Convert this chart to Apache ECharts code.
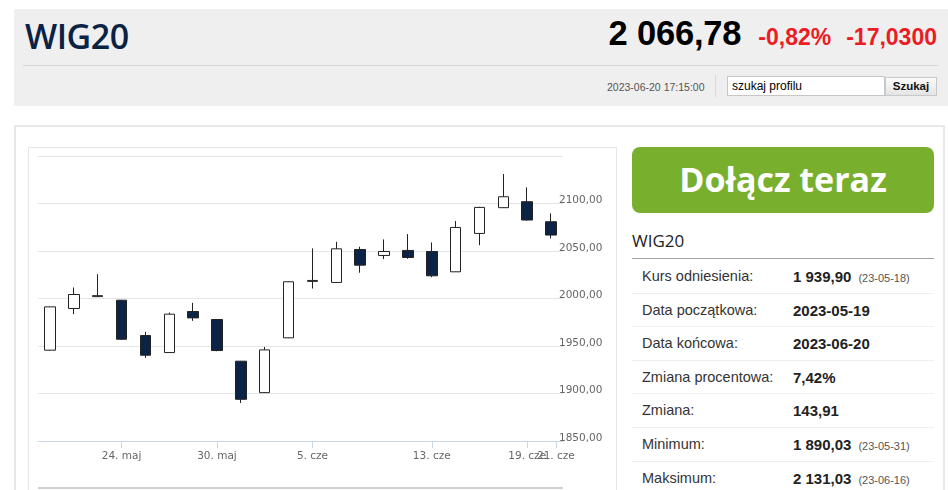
<!DOCTYPE html>
<html>
<head>
<meta charset="utf-8">
<script src="https://cdn.jsdelivr.net/npm/echarts@6/dist/echarts.min.js"></script>
<style>
  html, body { margin:0; padding:0; background:#fff; width:948px; height:490px; overflow:hidden; font-family:"Liberation Sans", Arial, sans-serif; }
  .abs { position:absolute; }
  #hdr { left:14px; top:9px; width:934px; height:97px; background:#efefef; }
  #title { left:25px; top:19px; font-family:"Open Sans", sans-serif; font-size:34px; line-height:34px; color:#0a2244; font-weight:600; letter-spacing:-0.5px; }
  #sep1 { left:23px; top:65px; width:915px; height:1px; background:#d4d4d4; }
  #price { right:11px; top:14px; display:flex; align-items:baseline; white-space:nowrap; height:44px; }
  #price .p { font-size:34.5px; font-weight:bold; color:#000; letter-spacing:-0.2px; }
  #price .r { font-size:23px; font-weight:bold; color:#ec1c24; }
  #ts { left:607px; top:82px; font-size:10.5px; line-height:10px; color:#555; white-space:nowrap; }
  #vsep { left:715px; top:75px; width:1px; height:22px; background:#d8d8d8; }
  #inp { left:727px; top:76px; width:152px; height:18px; border:1px solid #c6c6c6; background:#fff; font-size:12px; line-height:18px; padding-left:4px; box-sizing:content-box; color:#000; }
  #btn { left:885px; top:77px; width:50px; height:17px; border:1px solid #c8c8c8; background:linear-gradient(#fbfbfb,#e4e4e4); font-size:11.5px; font-weight:bold; line-height:17px; text-align:center; color:#111; }
  #box2 { left:14px; top:125px; width:927px; height:400px; border:2px solid #e8e8e8; }
  #chartbox { left:28px; top:147px; width:587px; height:360px; border:1px solid #e6e6e6; }
  #chart { left:29px; top:148px; width:587px; height:342px; }
  #navline { left:38px; top:487px; width:525px; height:2px; background:#cfcfcf; }
  #join { left:632px; top:147px; width:302px; height:66px; background:#78b02e; border-radius:8px; color:#fff; font-family:"Open Sans", sans-serif; font-weight:bold; font-size:34px; line-height:64px; text-align:center; }
  #ptitle { left:632px; top:232px; font-family:"Open Sans", sans-serif; font-size:17px; line-height:17px; color:#222; }
  #pline { left:632px; top:258px; width:302px; height:1px; background:#a3a3a3; }
  #tbl { left:632px; top:260px; width:302px; }
  .row { position:relative; height:32.6px; border-bottom:1px solid #efefef; }
  .row .l { position:absolute; left:10px; top:0; line-height:33px; font-size:14.5px; color:#333; white-space:nowrap; }
  .row .v { position:absolute; left:161px; top:0; line-height:33px; font-size:15px; font-weight:bold; color:#222; white-space:nowrap; }
  .row .v small { font-size:11px; font-weight:normal; color:#555; margin-left:7px; }
</style>
</head>
<body>
<div id="hdr" class="abs"></div>
<div id="title" class="abs">WIG20</div>
<div id="sep1" class="abs"></div>
<div id="price" class="abs"><span class="p">2 066,78</span><span class="r" style="margin-left:17px">-0,82%</span><span class="r" style="margin-left:15px">-17,0300</span></div>
<div id="ts" class="abs">2023-06-20 17:15:00</div>
<div id="vsep" class="abs"></div>
<div id="inp" class="abs">szukaj profilu</div>
<div id="btn" class="abs">Szukaj</div>

<div id="box2" class="abs"></div>
<div id="chartbox" class="abs"></div>
<div id="chart" class="abs"></div>
<div id="navline" class="abs"></div>

<div id="join" class="abs">Dołącz teraz</div>
<div id="ptitle" class="abs">WIG20</div>
<div id="pline" class="abs"></div>
<div id="tbl" class="abs">
  <div class="row"><span class="l">Kurs odniesienia:</span><span class="v">1 939,90<small>(23-05-18)</small></span></div>
  <div class="row"><span class="l">Data początkowa:</span><span class="v">2023-05-19</span></div>
  <div class="row"><span class="l">Data końcowa:</span><span class="v">2023-06-20</span></div>
  <div class="row"><span class="l">Zmiana procentowa:</span><span class="v">7,42%</span></div>
  <div class="row"><span class="l">Zmiana:</span><span class="v">143,91</span></div>
  <div class="row"><span class="l">Minimum:</span><span class="v">1 890,03<small>(23-05-31)</small></span></div>
  <div class="row"><span class="l">Maksimum:</span><span class="v">2 131,03<small>(23-06-16)</small></span></div>
</div>

<script>
const dates = ['2023-05-19','2023-05-22','2023-05-23','2023-05-24','2023-05-25','2023-05-26','2023-05-29','2023-05-30','2023-05-31','2023-06-01','2023-06-02','2023-06-05','2023-06-06','2023-06-07','2023-06-09','2023-06-12','2023-06-13','2023-06-14','2023-06-15','2023-06-16','2023-06-19','2023-06-20'];
const openV  = [1945.6, 1989.5, 2002.0, 1998.2, 1961.0, 1943.1, 1986.3, 1977.9, 1934.0, 1900.9, 1958.6, 2018.0, 2016.9, 2051.6, 2045.3, 2050.6, 2049.5, 2028.1, 2068.5, 2095.6, 2101.9, 2080.8];
const closeV = [1991.2, 2004.2, 2003.0, 1957.1, 1940.3, 1983.5, 1979.6, 1945.2, 1893.9, 1945.9, 2017.6, 2019.0, 2052.3, 2035.1, 2049.5, 2043.2, 2023.9, 2074.8, 2095.9, 2107.1, 2082.6, 2066.78];
const lowV   = [1945.0, 1983.5, 2001.5, 1956.5, 1937.5, 1943.0, 1976.5, 1944.5, 1890.03, 1900.5, 1958.3, 2010.5, 2016.5, 2027.1, 2041.5, 2041.8, 2022.5, 2028.0, 2056.2, 2095.3, 2082.0, 2063.2];
const highV  = [1991.5, 2011.6, 2025.6, 1998.5, 1964.9, 1985.2, 1995.4, 1978.2, 1934.3, 1949.1, 2018.0, 2052.7, 2059.7, 2054.5, 2062.2, 2067.8, 2059.0, 2081.5, 2096.5, 2131.03, 2117.0, 2089.6];
const tickDates  = ['2023-05-24','2023-05-30','2023-06-05','2023-06-13','2023-06-19'];
const tickLabels = ['24. maj','30. maj','5. cze','13. cze','19. cze'];
const extraTick = { pos: 21.2, label: '21. cze' };  // ordinal-axis extrapolated tick past the last session
const yTicks = { min: 1850, max: 2150, step: 50 };

const tickPos = tickDates.map(d => dates.indexOf(d));
const candles = dates.map((d, i) => [i, openV[i], closeV[i], lowV[i], highV[i]]);

const labelStyle = { color: '#666', fontFamily: 'DejaVu Sans', fontSize: 10.5 };
function xAxisFor(positions, texts, showLine) {
  return {
    type: 'value', min: -0.5, max: dates.length - 0.5, position: 'bottom',
    splitLine: { show: false },
    axisLine: { show: showLine, onZero: false, lineStyle: { color: '#ccd6eb', width: 1 } },
    axisTick: { customValues: positions, length: 7, lineStyle: { color: '#ccd6eb' } },
    axisLabel: Object.assign({
      customValues: positions, margin: 10, showMinLabel: true, showMaxLabel: true, hideOverlap: false,
      formatter: v => { const k = positions.findIndex(p => Math.abs(p - v) < 1e-6); return k >= 0 ? texts[k] : ''; }
    }, labelStyle)
  };
}

const chart = echarts.init(document.getElementById('chart'), null, { renderer: 'canvas' });
chart.setOption({
  animation: false,
  grid: { left: 9, top: 8, width: 525, height: 285 },
  xAxis: [
    xAxisFor(tickPos, tickLabels, true),
    xAxisFor([extraTick.pos], [extraTick.label], false)
  ],
  yAxis: {
    type: 'value', position: 'right', min: yTicks.min, max: yTicks.max, interval: yTicks.step,
    axisLine: { show: false, onZero: false }, axisTick: { show: false },
    splitLine: { lineStyle: { color: '#e6e6e6', width: 1 } },
    axisLabel: Object.assign({
      showMaxLabel: false, margin: -4, verticalAlign: 'bottom', lineHeight: 6,
      formatter: v => v.toFixed(2).replace('.', ',')
    }, labelStyle)
  },
  series: [{
    type: 'candlestick',
    xAxisIndex: 0,
    data: candles,
    encode: { x: 0, y: [1, 2, 3, 4] },
    barWidth: 11,
    itemStyle: { color: '#ffffff', color0: '#0b2446', borderColor: '#222', borderColor0: '#222', borderWidth: 1 }
  }]
});
</script>
</body>
</html>
